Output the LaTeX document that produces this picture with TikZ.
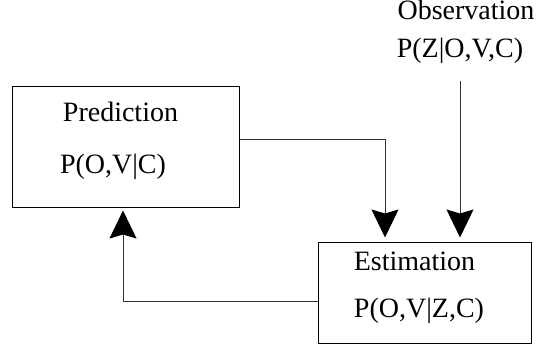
\documentclass[tikz,border=0pt]{standalone}
\usepackage{fontspec}
\setmainfont{Liberation Serif}
\usetikzlibrary{arrows.meta}
\tikzstyle{block}=[draw, line width=1pt, rectangle, inner sep=0pt]
\tikzstyle{caption}=[inner sep=0pt, anchor=base, font=\fontsize{28}{30}\selectfont]
\tikzstyle{flow}=[line width=0.9pt, black!80, -{Stealth[length=28pt, width=27pt, inset=4pt, black]}]

\begin{document}
\begin{tikzpicture}[x=1pt, y=-1pt]
      \useasboundingbox (0, 0) rectangle (540, 358);
      % boxes
      \node[block, minimum width=227pt, minimum height=120pt] (pred) at (125.5, 147) {};
      \node[block, minimum width=213pt, minimum height=101pt] (est) at (424.5, 292.5) {};
      % texts
      \node[caption] (predname) at (120.5, 122) {Prediction};
      \node[caption] (predform) at (113, 173) {P(O,V|C)};
      \node[caption] (estname) at (414.5, 270) {Estimation};
      \node[caption] (estform) at (419, 317) {P(O,V|Z,C)};
      \node[caption] (obsname) at (466, 20) {Observation};
      \node[caption] (obsform) at (460, 58) {P(Z|O,V,C)};
      % connectors
      \coordinate (predout) at ([yshift=8pt]pred.east);
      \coordinate (estin) at ([xshift=-39.5pt, yshift=4pt]est.north);
      \coordinate (obsin) at ([xshift=35.5pt, yshift=4pt]est.north);
      \coordinate (predin) at ([xshift=-2.5pt, yshift=-3pt]pred.south);
      \draw[flow] (predout) -| (estin);
      \draw[flow] ([yshift=-17pt]obsform.south -| obsin) -- (obsin);
      \draw[flow] ([yshift=-8.5pt]est.west) -| (predin);
    \end{tikzpicture}
\end{document}
